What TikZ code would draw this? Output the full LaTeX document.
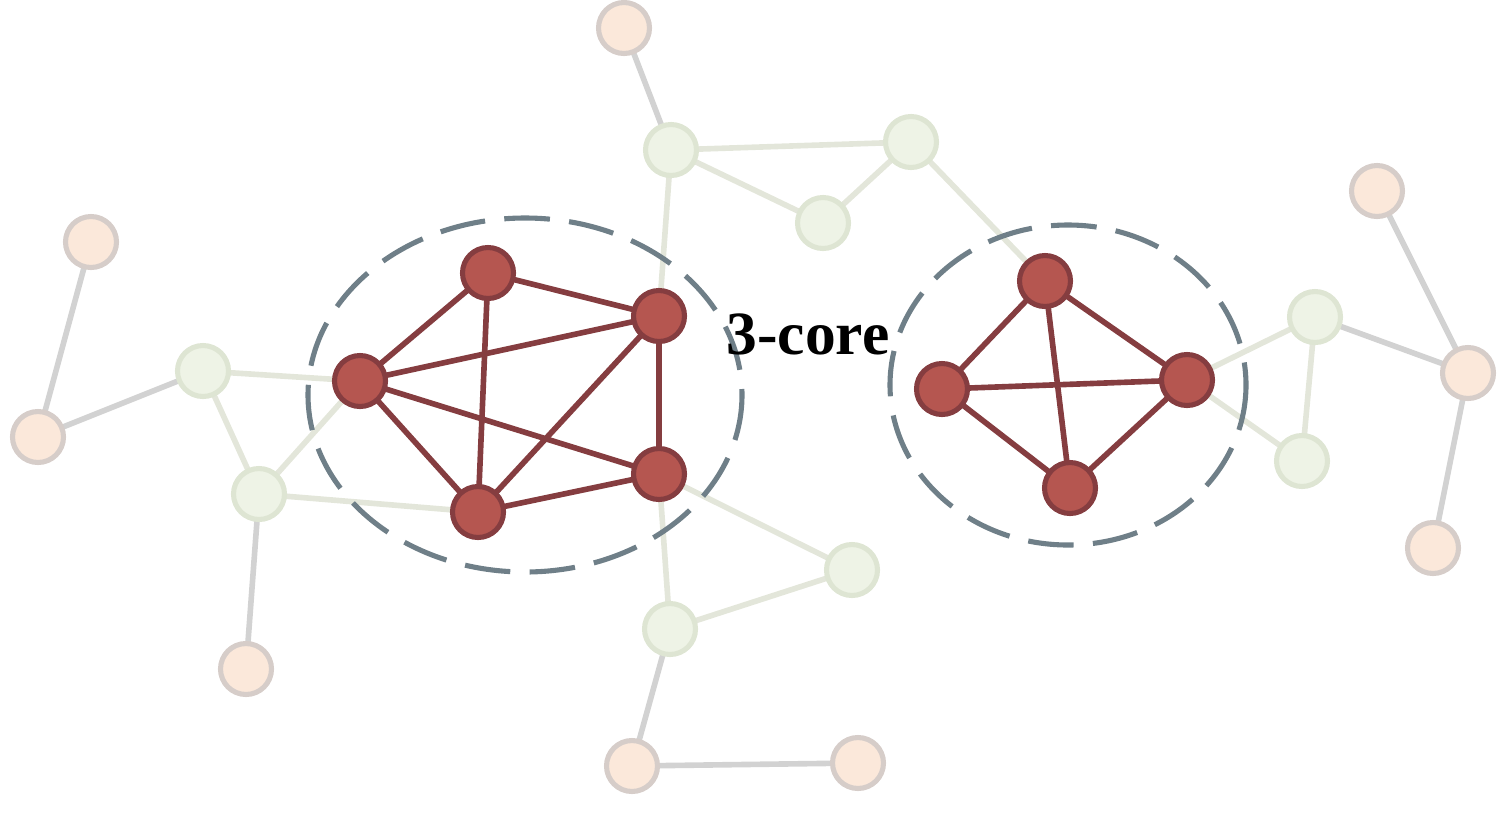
\documentclass[tikz,border=0pt]{standalone}
\usepackage{fontspec}
\setmainfont{Liberation Serif}
\begin{document}
\definecolor{redfill}{HTML}{B55650}
\definecolor{redline}{HTML}{853D40}
\definecolor{peachfill}{HTML}{FBE8DA}
\definecolor{peachline}{HTML}{D6CDC9}
\definecolor{greyedge}{HTML}{D2D2D2}
\definecolor{greenfill}{HTML}{EEF3E6}
\definecolor{greenline}{HTML}{DEE5D3}
\definecolor{greenedge}{HTML}{E3E6DA}
\definecolor{ringcol}{HTML}{6F7F88}
\pgfdeclarelayer{edges}
\pgfsetlayers{edges,main}
\begin{tikzpicture}[x=0.02cm,y=-0.02cm,
  base/.style={circle,minimum size=1.02cm,inner sep=0pt,line width=2.9pt},
  corenode/.style={base,draw=redline,fill=redfill},
  outernode/.style={base,draw=peachline,fill=peachfill},
  midnode/.style={base,draw=greenline,fill=greenfill},
  coreedge/.style={draw=redline,line width=3.2pt},
  outeredge/.style={draw=greyedge,line width=3.2pt},
  midedge/.style={draw=greenedge,line width=3.2pt},
  ring/.style={draw=ringcol,line width=2.9pt,dash pattern=on 26pt off 11pt}]
\useasboundingbox (0,0) rectangle (1508,812);
% outer (peach) nodes
\node[outernode] (o1) at (624,28) {};
\node[outernode] (o2) at (91,242) {};
\node[outernode] (o3) at (38,437) {};
\node[outernode] (o4) at (1377,191) {};
\node[outernode] (o5) at (1468,373) {};
\node[outernode] (o6) at (1433,548) {};
\node[outernode] (o7) at (246,669) {};
\node[outernode] (o8) at (632,766) {};
\node[outernode] (o9) at (858,763) {};
% middle (green) nodes
\node[midnode] (g1) at (671,150) {};
\node[midnode] (g2) at (911,142) {};
\node[midnode] (g3) at (823,223) {};
\node[midnode] (g4) at (203,371) {};
\node[midnode] (g5) at (259,494) {};
\node[midnode] (g6) at (1315,317) {};
\node[midnode] (g7) at (1302,461) {};
\node[midnode] (g8) at (852,570) {};
\node[midnode] (g9) at (670,629) {};
% core nodes
\node[corenode] (r1) at (488,273) {};
\node[corenode] (r2) at (659,316) {};
\node[corenode] (r3) at (360,381) {};
\node[corenode] (r4) at (659,474) {};
\node[corenode] (r5) at (478,512) {};
\node[corenode] (s1) at (1045,281) {};
\node[corenode] (s2) at (942,389) {};
\node[corenode] (s3) at (1187,380) {};
\node[corenode] (s4) at (1070,488) {};
% edges and core outlines, drawn underneath the nodes
\begin{pgfonlayer}{edges}
  \foreach \a/\b in {o1/g1,o2/o3,o3/g4,g5/o7,o4/o5,o5/o6,o5/g6,o8/o9,o8/g9}
    \draw[outeredge] (\a.center) -- (\b.center);
  \foreach \a/\b in {g1/g2,g1/g3,g3/g2,g2/s1,g1/r2,g4/r3,g4/g5,g5/r3,g5/r5,
                     r4/g8,r4/g9,g9/g8,s3/g6,s3/g7,g6/g7}
    \draw[midedge] (\a.center) -- (\b.center);
  \draw[ring] (525,395) ellipse [x radius=217,y radius=177];
  \draw[ring] (1068,385) ellipse [x radius=178,y radius=160];
  \foreach \a/\b in {r1/r2,r1/r3,r1/r5,r2/r3,r2/r5,r2/r4,r3/r4,r3/r5,r5/r4,
                     s1/s2,s1/s3,s1/s4,s2/s3,s2/s4,s3/s4}
    \draw[coreedge] (\a.center) -- (\b.center);
\end{pgfonlayer}
\node[font=\bfseries\fontsize{35}{40}\selectfont,inner sep=0pt] (lbl) at (808,334) {3-core};
\end{tikzpicture}
\end{document}
